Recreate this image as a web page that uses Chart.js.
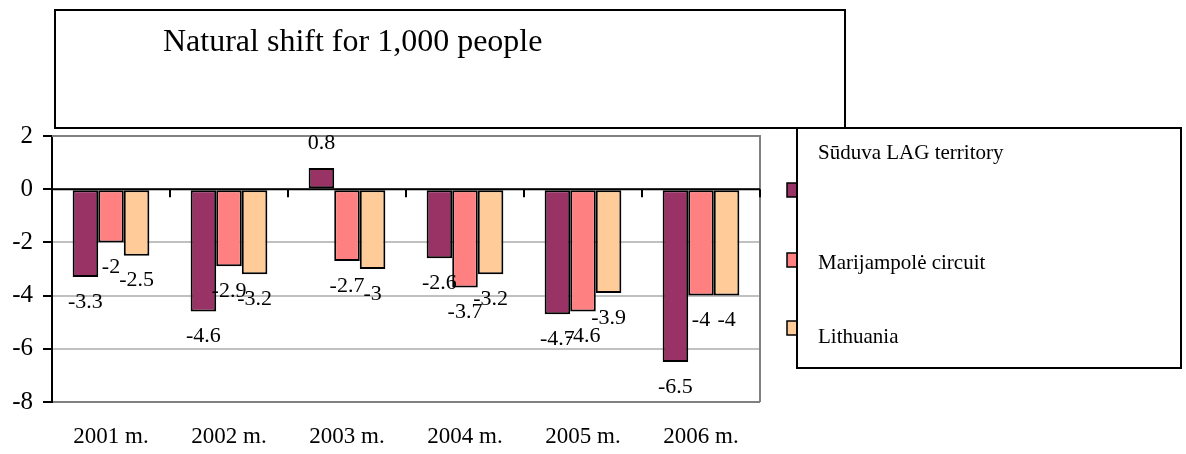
<!DOCTYPE html>
<html>
<head>
<meta charset="utf-8">
<title>Natural shift for 1,000 people</title>
<script src="https://cdn.jsdelivr.net/npm/chart.js@4/dist/chart.umd.min.js"></script>
<style>
  html, body { margin: 0; padding: 0; background: #fff; }
  canvas { display: block; }
</style>
</head>
<body>
<canvas id="chart" width="1186" height="454"></canvas>
<script>
const years = ['2001 m.', '2002 m.', '2003 m.', '2004 m.', '2005 m.', '2006 m.'];
const seriesNames = ['Sūduva LAG territory', 'Marijampolė circuit', 'Lithuania'];
const suduva = [-3.3, -4.6, 0.8, -2.6, -4.7, -6.5];
const marijampole = [-2, -2.9, -2.7, -3.7, -4.6, -4];
const lithuania = [-2.5, -3.2, -3, -3.2, -3.9, -4];
const yMin = -8, yMax = 2, yStep = 2;
const chartTitle = 'Natural shift for 1,000 people';

const serif = "'Liberation Serif', 'Times New Roman', serif";
const colors = ['#993366', '#FF8080', '#FFCC99'];

// value labels just past the end of each bar
const valueLabels = {
    id: 'valueLabels',
    afterDatasetsDraw(chart) {
        const ctx = chart.ctx;
        ctx.save();
        ctx.font = '22px ' + serif;
        ctx.fillStyle = '#000';
        ctx.textAlign = 'center';
        ctx.textBaseline = 'middle';
        chart.data.datasets.forEach((ds, i) => {
            chart.getDatasetMeta(i).data.forEach((bar, j) => {
                const v = ds.data[j];
                const y = v >= 0 ? bar.y - 25 : bar.y + 25;
                ctx.fillText(String(v), bar.x, y);
            });
        });
        ctx.restore();
    }
};

// zero line with category ticks, plot frame, title box and legend box
const decorations = {
    id: 'decorations',
    beforeDatasetsDraw(chart) {
        const ctx = chart.ctx;
        const a = chart.chartArea;
        ctx.save();
        ctx.strokeStyle = '#808080';
        ctx.lineWidth = 2;
        ctx.beginPath();
        ctx.moveTo(a.left, a.top);
        ctx.lineTo(a.right, a.top);
        ctx.lineTo(a.right, a.bottom);
        ctx.stroke();
        ctx.restore();
    },
    afterDatasetsDraw(chart) {
        const ctx = chart.ctx;
        const a = chart.chartArea;
        const x = chart.scales.x;
        const y0 = chart.scales.y.getPixelForValue(0);
        ctx.save();
        ctx.strokeStyle = '#000';
        ctx.lineWidth = 2;
        ctx.beginPath();
        ctx.moveTo(a.left, y0);
        ctx.lineTo(a.right, y0);
        const step = (a.right - a.left) / years.length;
        for (let i = 1; i <= years.length; i++) {
            const px = Math.round(x.getPixelForValue(i - 1) + step / 2);
            ctx.moveTo(px, y0);
            ctx.lineTo(px, y0 + 8);
        }
        ctx.stroke();
        ctx.restore();
    },
    afterDraw(chart) {
        const ctx = chart.ctx;
        ctx.save();
        // title box
        ctx.strokeStyle = '#000';
        ctx.lineWidth = 2;
        ctx.strokeRect(55, 10, 790, 118);
        ctx.fillStyle = '#000';
        ctx.font = '32px ' + serif;
        ctx.textBaseline = 'alphabetic';
        ctx.fillText(chartTitle, 163, 51);

        // legend markers, partly covered by the legend box
        const markerY = [190, 260, 328];
        chart.data.datasets.forEach((ds, i) => {
            ctx.fillStyle = ds.backgroundColor;
            ctx.fillRect(787, markerY[i] - 7, 14, 14);
            ctx.lineWidth = 1.5;
            ctx.strokeRect(787, markerY[i] - 7, 14, 14);
        });
        ctx.fillStyle = '#fff';
        ctx.fillRect(797, 128, 384, 240);
        ctx.lineWidth = 2;
        ctx.strokeRect(797, 128, 384, 240);

        const textY = [153, 263, 337];
        ctx.fillStyle = '#000';
        ctx.font = '21px ' + serif;
        ctx.textBaseline = 'middle';
        chart.data.datasets.forEach((ds, i) => {
            ctx.fillText(ds.label, 818, textY[i]);
        });
        ctx.restore();
    }
};

const ctx = document.getElementById('chart').getContext('2d');
const chart = new Chart(ctx, {
    type: 'bar',
    data: {
        labels: years,
        datasets: [suduva, marijampole, lithuania].map((d, i) => ({
            label: seriesNames[i],
            data: d,
            backgroundColor: colors[i],
            borderColor: '#000',
            borderWidth: 2,
            borderSkipped: false,
            categoryPercentage: 0.65,
            barPercentage: 1.0
        }))
    },
    options: {
        responsive: false,
        animation: false,
        devicePixelRatio: 1,
        layout: { padding: { left: 0, top: 136, right: 426, bottom: 0 } },
        plugins: {
            legend: { display: false },
            title: { display: false },
            tooltip: { enabled: false }
        },
        scales: {
            x: {
                grid: { display: false, drawTicks: false },
                border: { display: false },
                ticks: {
                    color: '#000',
                    font: { family: serif, size: 23 },
                    padding: 21
                },
                afterFit(scale) { scale.height = 52; }
            },
            y: {
                min: yMin,
                max: yMax,
                grid: {
                    color: c => c.tick && c.tick.value === yMin ? '#808080' : '#c0c0c0',
                    lineWidth: 2,
                    tickColor: '#000',
                    tickLength: 9
                },
                border: { display: true, color: '#000', width: 2 },
                ticks: {
                    stepSize: yStep,
                    color: '#000',
                    font: { family: serif, size: 25 },
                    padding: 10
                },
                afterFit(scale) { scale.width = 52; }
            }
        }
    },
    plugins: [decorations, valueLabels]
});
</script>
</body>
</html>
